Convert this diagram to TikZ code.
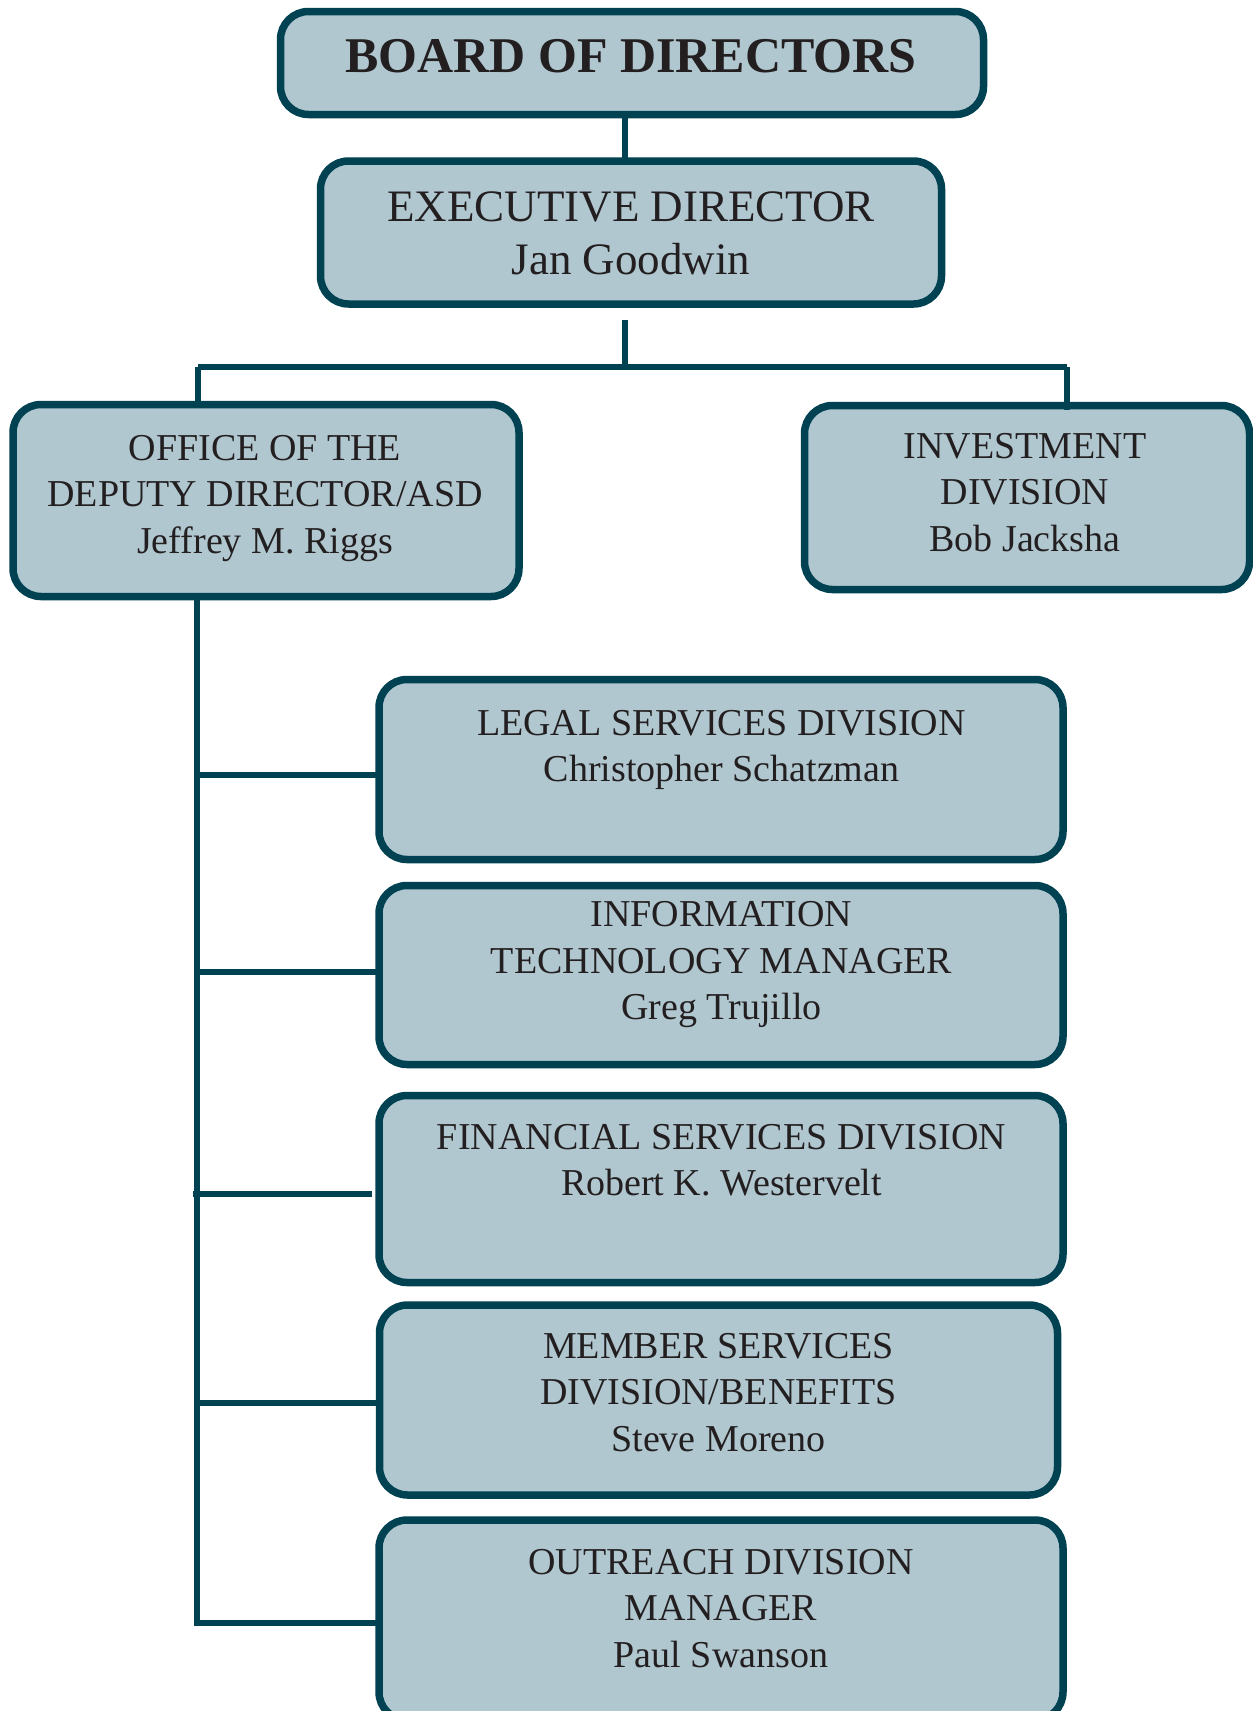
\documentclass[tikz,border=0pt]{standalone}
\usepackage{fontspec}
\setmainfont{Liberation Serif}
\definecolor{boxfill}{RGB}{176,199,208}
\definecolor{boxline}{RGB}{0,66,82}
\definecolor{ink}{RGB}{35,31,32}
\begin{document}
\begin{tikzpicture}[x=1pt,y=-1pt,
  box/.style={draw=boxline, fill=boxfill, line width=7.5pt, rounded corners=28pt,
    inner sep=0pt, outer sep=0pt},
  conn/.style={draw=boxline, line width=6pt},
  txt/.style={text=ink, align=center, inner sep=0pt, anchor=north,
    font=\fontsize{38}{46.5}\selectfont},
  bigtxt/.style={text=ink, align=center, inner sep=0pt, anchor=north,
    font=\fontsize{45}{53}\selectfont},
  boardtxt/.style={text=ink, align=center, inner sep=0pt, anchor=north,
    font=\fontsize{50}{60}\selectfont\bfseries}]
\useasboundingbox (0,0) rectangle (1253,1711);

% boxes (centre line of the border)
\node[box, minimum width=703pt, minimum height=103pt] (board) at (632,63) {};
\node[box, minimum width=621pt, minimum height=143pt] (exec) at (631,232.5) {};
\node[box, minimum width=506pt, minimum height=192pt] (deputy) at (266,500.5) {};
\node[box, minimum width=445pt, minimum height=184pt] (invest) at (1027,497.5) {};
\node[box, minimum width=684pt, minimum height=180pt] (legal) at (721,769.5) {};
\node[box, minimum width=684pt, minimum height=179pt] (it) at (721,975) {};
\node[box, minimum width=684pt, minimum height=187pt] (fin) at (721,1189) {};
\node[box, minimum width=678pt, minimum height=190pt] (member) at (718.5,1400) {};
\node[box, minimum width=684pt, minimum height=200pt] (outreach) at (721,1620) {};

% texts
\node[boardtxt] (tboard) at (631,39.5) {BOARD OF DIRECTORS};
\node[bigtxt] (texec) at (631,191) {EXECUTIVE DIRECTOR\\Jan Goodwin};
\node[txt] (tdeputy) at (265,434.7) {OFFICE OF THE\\DEPUTY DIRECTOR/ASD\\Jeffrey M. Riggs};
\node[txt] (tinvest) at (1025,432.7) {INVESTMENT\\DIVISION\\Bob Jacksha};
\node[txt] (tlegal) at (721.5,709.7) {LEGAL SERVICES DIVISION\\Christopher Schatzman};
\node[txt] (tit) at (721.5,901.4) {INFORMATION\\TECHNOLOGY MANAGER\\Greg Trujillo};
\node[txt] (tfin) at (721.5,1123.7) {FINANCIAL SERVICES DIVISION\\Robert K. Westervelt};
\node[txt] (tmember) at (718.5,1333) {MEMBER SERVICES\\DIVISION/BENEFITS\\Steve Moreno};
\node[txt] (toutreach) at (721,1548.7) {OUTREACH DIVISION\\MANAGER\\Paul Swanson};

% connector points
\coordinate (cx) at (625,0);
\coordinate (stubtop) at (625,320);
\coordinate (junc) at (625,367);
\coordinate (hl) at (198,367);
\coordinate (hr) at (1067,367);
\coordinate (hrend) at (1067,410);
\coordinate (b1) at (197,775);
\coordinate (b2) at (197,971.5);
\coordinate (b3) at (193,1193.5);
\coordinate (b3e) at (372,1193.5);
\coordinate (b4) at (197,1403);
\coordinate (b5) at (197,1623);
\coordinate (trunkend) at (197,1626);

% connectors
\draw[conn] (board.south -| cx) -- (exec.north -| cx);
\draw[conn] (stubtop) -- (junc);
\draw[conn] (hl) -- (hr);
\draw[conn] (hl) -- (hl |- deputy.north);
\draw[conn] (hr) -- (hrend);
\draw[conn] (deputy.south -| b1) -- (trunkend);
\draw[conn] (b1) -- (b1 -| legal.west);
\draw[conn] (b2) -- (b2 -| it.west);
\draw[conn] (b3) -- (b3e);
\draw[conn] (b4) -- (b4 -| member.west);
\draw[conn] (b5) -- (b5 -| outreach.west);
\end{tikzpicture}
\end{document}
